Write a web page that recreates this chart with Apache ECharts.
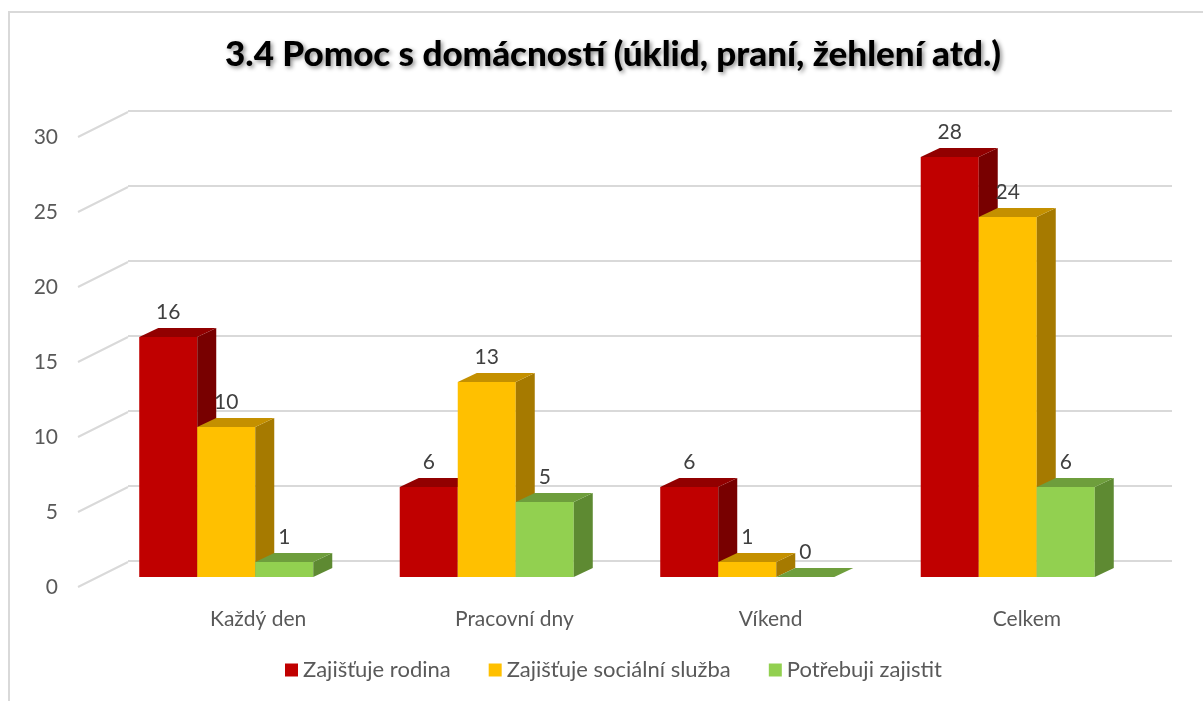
<!DOCTYPE html>
<html>
<head>
<meta charset="utf-8">
<script src="https://cdn.jsdelivr.net/npm/echarts@6/dist/echarts.min.js"></script>
<style>
	html, body { margin: 0; padding: 0; background: #fff; }
	#chart { width: 1203px; height: 701px; }
</style>
</head>
<body>
<div id="chart"></div>
<script>
var categories = ['Každý den', 'Pracovní dny', 'Víkend', 'Celkem'];
var seriesNames = ['Zajišťuje rodina', 'Zajišťuje sociální služba', 'Potřebuji zajistit'];
var rodina = [16, 6, 6, 28];
var sluzba = [10, 13, 1, 24];
var zajistit = [1, 5, 0, 6];
var yTicks = [0, 5, 10, 15, 20, 25, 30];

// barvy: čelo, vrch, bok
var faceColors = ['#C00000', '#FFC000', '#92D050'];
var topColors = ['#920000', '#C49000', '#6E9E3C'];
var sideColors = ['#780000', '#A67A00', '#5E8A32'];

var font = 'Lato, "Open Sans", sans-serif';
var DX = 19, DY = 9; // hloubka sloupce

var chart = echarts.init(document.getElementById('chart'));

function barSeries(idx, values) {
	return {
		name: seriesNames[idx],
		type: 'custom',
		xAxisIndex: 0,
		yAxisIndex: 0,
		itemStyle: { color: faceColors[idx] },
		data: values.map(function (v, i) { return [i, v]; }),
		renderItem: function (params, api) {
			var cat = api.value(0), v = api.value(1);
			var base = api.coord([cat, 0]);
			var top = api.coord([cat, v]);
			var band = api.size([1, 0])[0];
			var bw = band * 0.2227;
			var x0 = base[0] - bw * 1.5 + idx * bw;
			var by = base[1], ty = top[1];
			return {
				type: 'group',
				children: [{
					type: 'rect',
					shape: { x: x0, y: ty, width: bw, height: by - ty },
					style: { fill: faceColors[idx] }
				}, {
					type: 'polygon',
					shape: { points: [[x0 + bw, ty], [x0 + bw + DX, ty - DY], [x0 + bw + DX, by - DY], [x0 + bw, by]] },
					style: { fill: sideColors[idx] }
				}, {
					type: 'polygon',
					shape: { points: [[x0, ty], [x0 + bw, ty], [x0 + bw + DX, ty - DY], [x0 + DX, ty - DY]] },
					style: { fill: topColors[idx] }
				}, {
					type: 'text',
					style: {
						text: String(v),
						x: x0 + bw / 2,
						y: ty - DY - 5,
						align: 'center',
						verticalAlign: 'bottom',
						fill: '#404040',
						font: '21px ' + font
					}
				}]
			};
		}
	};
}

var option = {
	backgroundColor: '#ffffff',
	animation: false,
	title: {
		text: '3.4 Pomoc s domácností (úklid, praní, žehlení atd.)',
		left: 613,
		top: 37,
		padding: 0,
		textAlign: 'center',
		textStyle: {
			fontFamily: font,
			fontWeight: 900,
			fontSize: 35,
			color: '#000000',
			textShadowColor: 'rgba(0,0,0,0.45)',
			textShadowBlur: 4,
			textShadowOffsetX: 2,
			textShadowOffsetY: 2
		}
	},
	legend: {
		data: seriesNames,
		left: 280,
		top: 654,
		icon: 'rect',
		itemWidth: 13,
		itemHeight: 13,
		itemGap: 38,
		textStyle: { fontFamily: font, fontSize: 22, color: '#595959' }
	},
	graphic: [{
		type: 'polyline',
		shape: { points: [[9, 701], [9, 12], [1203, 12]] },
		style: { stroke: '#d9d9d9', lineWidth: 2, fill: null }
	}],
	grid: [
		{ left: 96, top: 127, width: 1042, height: 450 },  // sloupce
		{ left: 128, top: 111, width: 1044, height: 450 }, // zadní stěna
		{ left: 78, top: 137, width: 1042, height: 450 },  // přední rovina, popisky osy y
		{ left: 130, top: 600, width: 1025, height: 1 }    // popisky kategorií
	],
	xAxis: [
		{ gridIndex: 0, type: 'category', data: categories, show: false },
		{ gridIndex: 1, type: 'category', data: categories, show: false },
		{ gridIndex: 2, type: 'value', min: 0, max: 1, show: false },
		{
			gridIndex: 3, type: 'category', data: categories,
			axisLine: { show: false }, axisTick: { show: false },
			axisLabel: { margin: 8, fontFamily: font, fontSize: 21, color: '#595959' }
		}
	],
	yAxis: [
		{ gridIndex: 0, type: 'value', min: 0, max: 30, interval: 5, show: false },
		{
			gridIndex: 1, type: 'value', min: 0, max: 30, interval: 5,
			axisLine: { show: false }, axisTick: { show: false }, axisLabel: { show: false },
			splitLine: { lineStyle: { color: '#d9d9d9', width: 2 } }
		},
		{
			gridIndex: 2, type: 'value', min: 0, max: 30, interval: 5,
			axisLine: { show: false }, axisTick: { show: false }, splitLine: { show: false },
			axisLabel: { margin: 20, fontFamily: font, fontSize: 21, color: '#595959' }
		},
		{ gridIndex: 3, type: 'value', show: false }
	],
	series: [
		{
			type: 'custom',
			xAxisIndex: 2,
			yAxisIndex: 2,
			silent: true,
			data: yTicks.map(function (t) { return [0, t]; }),
			renderItem: function (params, api) {
				var p = api.coord([0, api.value(1)]);
				return {
					type: 'line',
					shape: { x1: p[0], y1: p[1], x2: p[0] + 50, y2: p[1] - 25 },
					style: { stroke: '#d9d9d9', lineWidth: 2 }
				};
			}
		},
		barSeries(0, rodina),
		barSeries(1, sluzba),
		barSeries(2, zajistit)
	]
};

chart.setOption(option);
</script>
</body>
</html>
